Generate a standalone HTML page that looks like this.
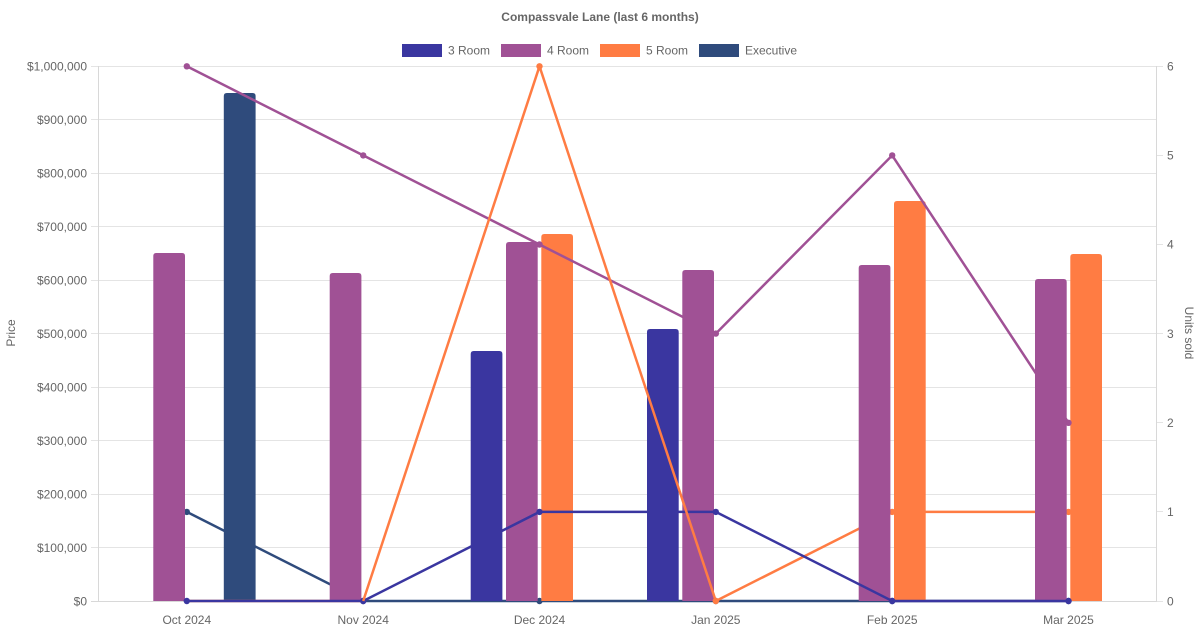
<!DOCTYPE html>
<html><head><meta charset="utf-8"><style>
html,body{margin:0;padding:0;background:#fff;}
svg{display:block;font-family:"Liberation Sans",Arial,sans-serif;}
</style></head><body>
<svg width="1200" height="630" viewBox="0 0 1200 630" xmlns="http://www.w3.org/2000/svg">
<rect width="1200" height="630" fill="#fff"/>
<text x="600" y="21" text-anchor="middle" font-size="12" font-weight="bold" fill="#666">Compassvale Lane (last 6 months)</text>
<!-- legend -->
<g font-size="12" fill="#666">
<rect x="402" y="44" width="40" height="13" fill="#3a36a0"/><text x="448" y="54.5">3 Room</text>
<rect x="501" y="44" width="40" height="13" fill="#a05195"/><text x="547" y="54.5">4 Room</text>
<rect x="600" y="44" width="40" height="13" fill="#ff7c43"/><text x="646" y="54.5">5 Room</text>
<rect x="699" y="44" width="40" height="13" fill="#2f4b7c"/><text x="745" y="54.5">Executive</text>
</g>
<!-- grid -->
<g stroke="#e4e4e4" stroke-width="1">
<line x1="91" y1="66.5" x2="1157" y2="66.5"/>
<line x1="91" y1="119.5" x2="1157" y2="119.5"/>
<line x1="91" y1="173.5" x2="1157" y2="173.5"/>
<line x1="91" y1="226.5" x2="1157" y2="226.5"/>
<line x1="91" y1="280.5" x2="1157" y2="280.5"/>
<line x1="91" y1="333.5" x2="1157" y2="333.5"/>
<line x1="91" y1="387.5" x2="1157" y2="387.5"/>
<line x1="91" y1="440.5" x2="1157" y2="440.5"/>
<line x1="91" y1="494.5" x2="1157" y2="494.5"/>
<line x1="91" y1="547.5" x2="1157" y2="547.5"/>
<line x1="91" y1="601.5" x2="1157" y2="601.5" stroke="#d8d8d8"/>
<line x1="98.5" y1="66" x2="98.5" y2="602" stroke="#d8d8d8"/>
<line x1="1156.5" y1="66" x2="1156.5" y2="602" stroke="#d8d8d8"/>
<line x1="1157" y1="66.5" x2="1163" y2="66.5"/>
<line x1="1157" y1="155.5" x2="1163" y2="155.5"/>
<line x1="1157" y1="244.5" x2="1163" y2="244.5"/>
<line x1="1157" y1="333.5" x2="1163" y2="333.5"/>
<line x1="1157" y1="422.5" x2="1163" y2="422.5"/>
<line x1="1157" y1="511.5" x2="1163" y2="511.5"/>
<line x1="1157" y1="601.5" x2="1163" y2="601.5"/>
</g>
<!-- left labels -->
<g font-size="12" fill="#666" text-anchor="end">
<text x="87" y="70.5">$1,000,000</text>
<text x="87" y="124">$900,000</text>
<text x="87" y="177.5">$800,000</text>
<text x="87" y="231">$700,000</text>
<text x="87" y="284.5">$600,000</text>
<text x="87" y="338">$500,000</text>
<text x="87" y="391.5">$400,000</text>
<text x="87" y="445">$300,000</text>
<text x="87" y="498.5">$200,000</text>
<text x="87" y="552">$100,000</text>
<text x="87" y="605.5">$0</text>
</g>
<g font-size="12" fill="#666">
<text x="1167" y="70.5">6</text>
<text x="1167" y="159.5">5</text>
<text x="1167" y="248.5">4</text>
<text x="1167" y="338">3</text>
<text x="1167" y="427">2</text>
<text x="1167" y="516">1</text>
<text x="1167" y="605.5">0</text>
</g>
<g font-size="12" fill="#666" text-anchor="middle">
<text x="186.8" y="624">Oct 2024</text>
<text x="363.2" y="624">Nov 2024</text>
<text x="539.5" y="624">Dec 2024</text>
<text x="715.8" y="624">Jan 2025</text>
<text x="892.2" y="624">Feb 2025</text>
<text x="1068.5" y="624">Mar 2025</text>
</g>
<text transform="translate(15,333) rotate(-90)" text-anchor="middle" font-size="12" fill="#666">Price</text>
<text transform="translate(1185,333) rotate(90)" text-anchor="middle" font-size="12" fill="#666">Units sold</text>

<!-- Exec line -->
<g stroke="#2f4b7c" stroke-width="2.5" fill="none" stroke-linejoin="round">
<polyline points="186.8,511.9 363.2,601 539.5,601 715.8,601 892.2,601 1068.5,601"/>
</g>
<g fill="#2f4b7c">
<circle cx="186.8" cy="511.9" r="3.2"/><circle cx="363.2" cy="601" r="3.2"/><circle cx="539.5" cy="601" r="3.2"/><circle cx="715.8" cy="601" r="3.2"/><circle cx="892.2" cy="601" r="3.2"/><circle cx="1068.5" cy="601" r="3.2"/>
</g>
<!-- Exec bars -->
<path d="M223.8,601V96Q223.8,93 226.8,93H252.6Q255.6,93 255.6,96V601Z" fill="#2f4b7c"/>
<!-- 5R line (lower segments) -->
<g stroke="#ff7c43" stroke-width="2.5" fill="none" stroke-linejoin="round">
<polyline points="186.8,601 363.2,601"/>
<polyline points="715.8,601 892.2,511.9 1068.5,511.9"/>
</g>
<g fill="#ff7c43">
<circle cx="892.2" cy="511.9" r="3.2"/><circle cx="1068.5" cy="511.9" r="3.2"/>
</g>
<!-- 5R bars -->
<g fill="#ff7c43">
<path d="M541.3,601V237Q541.3,234 544.3,234H570Q573,234 573,237V601Z"/>
<path d="M894,601V204Q894,201 897,201H922.7Q925.7,201 925.7,204V601Z"/>
<path d="M1070.3,601V257Q1070.3,254 1073.3,254H1099Q1102,254 1102,257V601Z"/>
</g>
<!-- 4R line -->
<g stroke="#a05195" stroke-width="2.5" fill="none" stroke-linejoin="round">
<polyline points="186.8,66.3 363.2,155.4 539.5,244.5 715.8,333.6 892.2,155.4 1068.5,422.8"/>
</g>
<g fill="#a05195">
<circle cx="186.8" cy="66.3" r="3.2"/><circle cx="363.2" cy="155.4" r="3.2"/><circle cx="539.5" cy="244.5" r="3.2"/><circle cx="715.8" cy="333.6" r="3.2"/><circle cx="892.2" cy="155.4" r="3.2"/><circle cx="1068.5" cy="422.8" r="3.2"/>
</g>
<!-- 4R bars -->
<g fill="#a05195">
<path d="M153.3,601V256Q153.3,253 156.3,253H182Q185,253 185,256V601Z"/>
<path d="M329.7,601V276Q329.7,273 332.7,273H358.4Q361.4,273 361.4,276V601Z"/>
<path d="M506,601V245Q506,242 509,242H534.7Q537.7,242 537.7,245V601Z"/>
<path d="M682.3,601V273Q682.3,270 685.3,270H711Q714,270 714,273V601Z"/>
<path d="M858.7,601V268Q858.7,265 861.7,265H887.4Q890.4,265 890.4,268V601Z"/>
<path d="M1035,601V282Q1035,279 1038,279H1063.7Q1066.7,279 1066.7,282V601Z"/>
</g>
<!-- 3R line -->
<g stroke="#3a36a0" stroke-width="2.5" fill="none" stroke-linejoin="round">
<polyline points="186.8,601 363.2,601 539.5,511.9 715.8,511.9 892.2,601 1068.5,601"/>
</g>
<g fill="#3a36a0">
<circle cx="186.8" cy="601" r="3.2"/><circle cx="363.2" cy="601" r="3.2"/><circle cx="539.5" cy="511.9" r="3.2"/><circle cx="715.8" cy="511.9" r="3.2"/><circle cx="892.2" cy="601" r="3.2"/><circle cx="1068.5" cy="601" r="3.2"/>
</g>
<!-- 3R bars -->
<g fill="#3a36a0">
<path d="M470.7,601V354Q470.7,351 473.7,351H499.4Q502.4,351 502.4,354V601Z"/>
<path d="M647,601V332Q647,329 650,329H675.7Q678.7,329 678.7,332V601Z"/>
</g>
<!-- 5R line upper segments -->
<g stroke="#ff7c43" stroke-width="2.5" fill="none" stroke-linejoin="round">
<polyline points="363.2,601 539.5,66.3 715.8,601"/>
</g>
<g fill="#ff7c43">
<circle cx="539.5" cy="66.3" r="3.2"/><circle cx="715.8" cy="601" r="3.2"/>
</g>
</svg>
</body></html>
